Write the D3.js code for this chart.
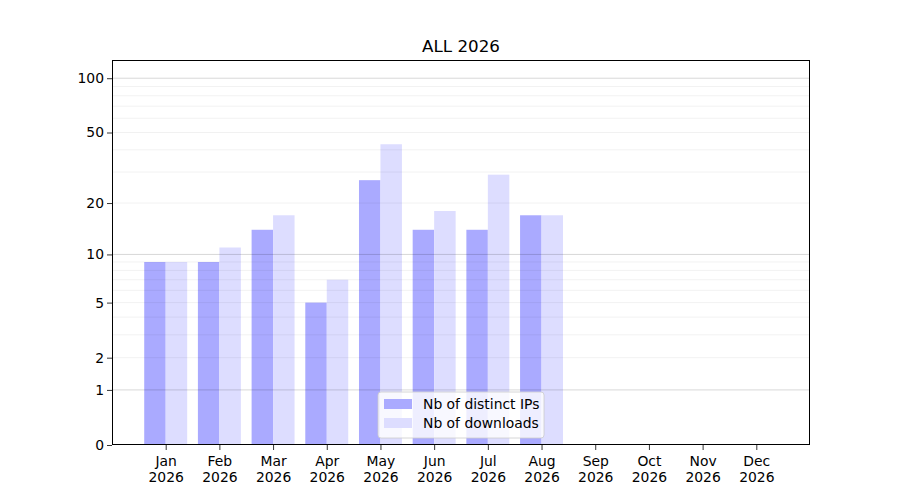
<!DOCTYPE html>
<html>
<head>
<meta charset="utf-8">
<script src="https://d3js.org/d3.v7.min.js"></script>
<style>
  body { margin: 0; background: #fff; }
  text { font-family: "DejaVu Sans", sans-serif; }
</style>
</head>
<body>
<div id="chart"></div>
<script>
// months and series
const months = ["Jan", "Feb", "Mar", "Apr", "May", "Jun", "Jul", "Aug", "Sep", "Oct", "Nov", "Dec"];
const year = "2026";
const distinctIps = [9, 9, 14, 5, 27, 14, 14, 17, 0, 0, 0, 0];
const downloads = [9, 11, 17, 7, 43, 18, 29, 17, 0, 0, 0, 0];
const yTicks = [0, 1, 2, 5, 10, 20, 50, 100];
const majorGrid = [1, 10, 100];
const minorGrid = [2, 3, 4, 5, 6, 7, 8, 9, 20, 30, 40, 50, 60, 70, 80, 90];

const width = 900, height = 500;
const margin = {top: 60, right: 90, bottom: 55, left: 112};
const fs = 13.9;

const svg = d3.select("#chart").append("svg")
    .attr("width", width)
    .attr("height", height);

const x = d3.scaleLinear()
    .domain([-1, 12])
    .range([margin.left, width - margin.right]);

const y = d3.scaleSymlog()
    .constant(1)
    .domain([0, 126])
    .range([height - margin.bottom, margin.top]);

const barW = x(0.4) - x(0);

// bars
svg.append("g").selectAll("rect.ips")
    .data(distinctIps)
    .join("rect")
    .attr("class", "ips")
    .attr("x", (d, i) => x(i - 0.4))
    .attr("y", d => y(d))
    .attr("width", barW)
    .attr("height", d => y(0) - y(d))
    .attr("fill", "#aaaaff");

svg.append("g").selectAll("rect.dl")
    .data(downloads)
    .join("rect")
    .attr("class", "dl")
    .attr("x", (d, i) => x(i))
    .attr("y", d => y(d))
    .attr("width", barW)
    .attr("height", d => y(0) - y(d))
    .attr("fill", "#ddddff");

// grid on top, like the original
svg.append("g").selectAll("line")
    .data(minorGrid)
    .join("line")
    .attr("x1", margin.left).attr("x2", width - margin.right)
    .attr("y1", d => y(d)).attr("y2", d => y(d))
    .attr("stroke", "#000").attr("stroke-opacity", 0.07).attr("stroke-width", 0.8);

svg.append("g").selectAll("line")
    .data(majorGrid)
    .join("line")
    .attr("x1", margin.left).attr("x2", width - margin.right)
    .attr("y1", d => y(d)).attr("y2", d => y(d))
    .attr("stroke", "#000").attr("stroke-opacity", 0.2).attr("stroke-width", 0.8);

// axes
const xAxis = svg.append("g")
    .attr("transform", "translate(0," + (height - margin.bottom) + ")")
    .call(d3.axisBottom(x).tickValues(d3.range(12)).tickSize(5).tickFormat(""));
xAxis.select(".domain").remove();
xAxis.selectAll(".tick line").attr("stroke-width", 0.8);
xAxis.selectAll(".tick").each(function(d) {
    const t = d3.select(this).append("text")
        .attr("fill", "#000")
        .attr("font-size", fs)
        .attr("text-anchor", "middle");
    t.append("tspan").attr("x", 0).attr("y", 21).text(months[d]);
    t.append("tspan").attr("x", 0).attr("y", 37).text(year);
});

const yAxis = svg.append("g")
    .attr("transform", "translate(" + margin.left + ",0)")
    .call(d3.axisLeft(y).tickValues(yTicks).tickSize(5).tickFormat(d3.format("d")));
yAxis.select(".domain").remove();
yAxis.selectAll(".tick line").attr("stroke-width", 0.8);
yAxis.selectAll(".tick text")
    .attr("font-size", fs)
    .attr("fill", "#000")
    .attr("x", -8);

// frame
svg.append("rect")
    .attr("x", margin.left + 0.5).attr("y", margin.top + 0.5)
    .attr("width", width - margin.left - margin.right - 1)
    .attr("height", height - margin.top - margin.bottom - 1)
    .attr("fill", "none")
    .attr("stroke", "#000")
    .attr("stroke-width", 1);

// title
svg.append("text")
    .attr("x", (margin.left + width - margin.right) / 2)
    .attr("y", 52)
    .attr("text-anchor", "middle")
    .attr("font-size", 16.7)
    .text("ALL " + year);

// legend
const legend = svg.append("g").attr("transform", "translate(378,392)");
legend.append("rect")
    .attr("width", 166).attr("height", 46)
    .attr("rx", 3)
    .attr("fill", "#fff").attr("fill-opacity", 0.8)
    .attr("stroke", "#ccc").attr("stroke-width", 0.8);
const items = [["Nb of distinct IPs", "#aaaaff"], ["Nb of downloads", "#ddddff"]];
items.forEach((it, i) => {
    legend.append("rect")
        .attr("x", 6).attr("y", 7 + i * 19)
        .attr("width", 28).attr("height", 10)
        .attr("fill", it[1]);
    legend.append("text")
        .attr("x", 45).attr("y", 16.5 + i * 19)
        .attr("font-size", fs)
        .text(it[0]);
});
</script>
</body>
</html>
